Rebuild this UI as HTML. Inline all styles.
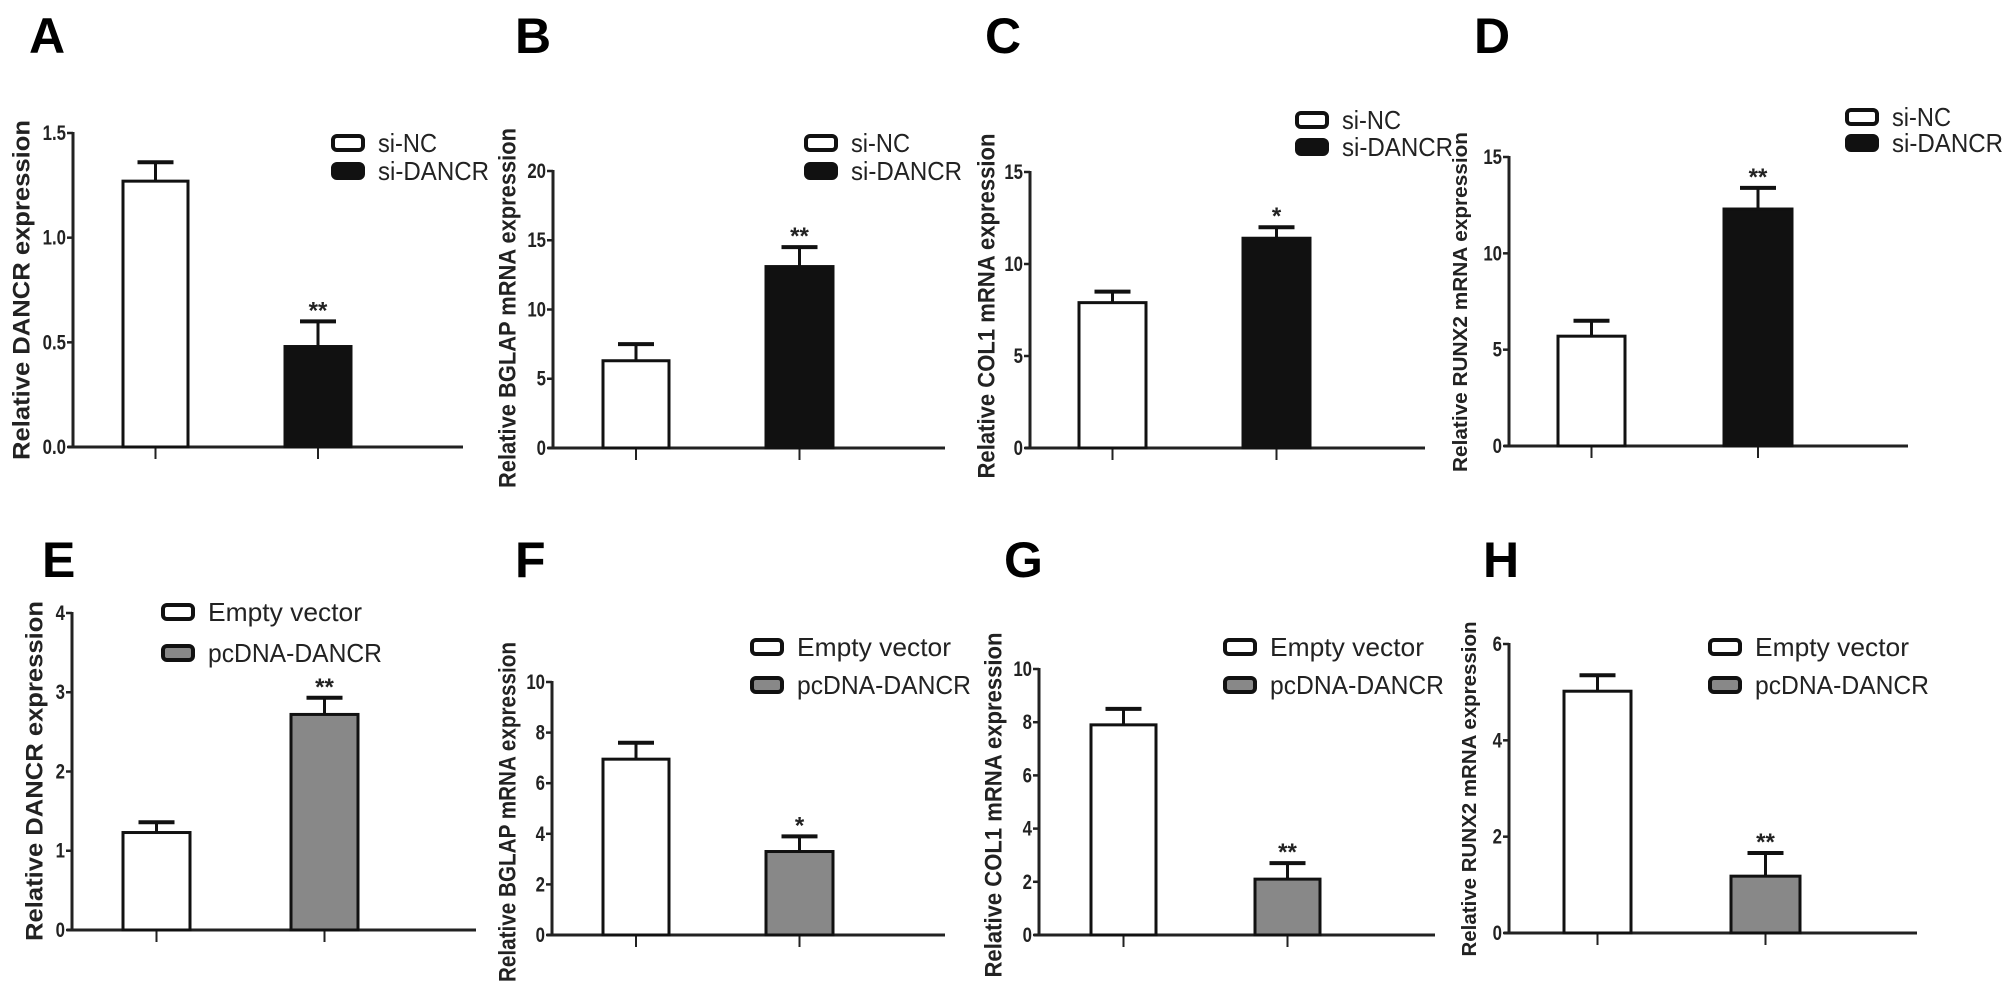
<!DOCTYPE html>
<html><head><meta charset="utf-8"><style>
html,body{margin:0;padding:0;background:#fff;}
svg{display:block;font-family:"Liberation Sans",Arial,sans-serif;}
</style></head><body>
<svg id="fig" width="2008" height="989" viewBox="0 0 2008 989" xmlns="http://www.w3.org/2000/svg"></svg>
<script>
// ----- data -----
const panelLetters = ["A","B","C","D","E","F","G","H"];
const yTitles = ["Relative DANCR expression","Relative BGLAP mRNA expression","Relative COL1 mRNA expression","Relative RUNX2 mRNA expression","Relative DANCR expression","Relative BGLAP mRNA expression","Relative COL1 mRNA expression","Relative RUNX2 mRNA expression"];
const groupNamesTop = ["si-NC","si-DANCR"];
const groupNamesBottom = ["Empty vector","pcDNA-DANCR"];
const meansA = [1.27, 0.48], errA = [1.36, 0.60];
const meansB = [6.3, 13.1], errB = [7.5, 14.5];
const meansC = [7.9, 11.4], errC = [8.5, 12.0];
const meansD = [5.7, 12.3], errD = [6.5, 13.4];
const meansE = [1.23, 2.72], errE = [1.36, 2.93];
const meansF = [6.95, 3.3], errF = [7.6, 3.9];
const meansG = [7.9, 2.1], errG = [8.5, 2.7];
const meansH = [5.02, 1.18], errH = [5.35, 1.66];
const sigMarks = [["","**"],["","**"],["","*"],["","**"],["","**"],["","*"],["","**"],["","**"]];
const ticksA = ["0.0","0.5","1.0","1.5"], ticksB = ["0","5","10","15","20"], ticksC = ["0","5","10","15"], ticksD = ["0","5","10","15"];
const ticksE = ["0","1","2","3","4"], ticksF = ["0","2","4","6","8","10"], ticksG = ["0","2","4","6","8","10"], ticksH = ["0","2","4","6"];

// ----- layout (pixels) -----
const layout = [
 {ax:73, y0:447, yTop:133, xEnd:463, bars:[[123,188],[285,351]], leg:[331,143,171], tl:[59,111], let:[29,53], yl:[22,290,340,24]},
 {ax:553,y0:448, yTop:171, xEnd:945, bars:[[603,669],[766,833]], leg:[804,143,171], tl:[59,111], let:[515,53], yl:[508,308,360,24]},
 {ax:1030,y0:448,yTop:172, xEnd:1425,bars:[[1079,1146],[1243,1310]],leg:[1295,120,147], tl:[59,111], let:[985,53], yl:[987,306,345,24]},
 {ax:1509,y0:446,yTop:157, xEnd:1908,bars:[[1558,1625],[1724,1792]],leg:[1845,117,143], tl:[59,111], let:[1474,53], yl:[1461,302,340,20]},
 {ax:72, y0:930, yTop:613, xEnd:476, bars:[[123,190],[291,358]], leg:[161,612,653], tl:[154,174], let:[42,577], yl:[35,771,340,24]},
 {ax:552,y0:935, yTop:682, xEnd:945, bars:[[603,669],[766,833]], leg:[750,647,685], tl:[154,174], let:[515,577], yl:[508,812,340,24]},
 {ax:1039,y0:935,yTop:669, xEnd:1435,bars:[[1091,1156],[1255,1320]],leg:[1223,647,685], tl:[154,174], let:[1004,577], yl:[994,805,345,24]},
 {ax:1509,y0:933,yTop:644, xEnd:1917,bars:[[1564,1631],[1731,1800]],leg:[1708,647,685], tl:[154,174], let:[1483,577], yl:[1470,789,335,20]}
];
const allMeans=[meansA,meansB,meansC,meansD,meansE,meansF,meansG,meansH];
const allErr=[errA,errB,errC,errD,errE,errF,errG,errH];
const allTicks=[ticksA,ticksB,ticksC,ticksD,ticksE,ticksF,ticksG,ticksH];
const fills=[["#fff","#111"],["#fff","#111"],["#fff","#111"],["#fff","#111"],["#fff","#888"],["#fff","#888"],["#fff","#888"],["#fff","#888"]];

const NS="http://www.w3.org/2000/svg";
const svg=document.getElementById('fig');
function mk(tag,attrs,parent){const e=document.createElementNS(NS,tag);for(const k in attrs)e.setAttribute(k,attrs[k]);(parent||svg).appendChild(e);return e;}

panelLetters.forEach((L,i)=>{
  const P=layout[i], ticks=allTicks[i];
  const vmax=parseFloat(ticks[ticks.length-1]);
  const y=v=>P.y0-(v/vmax)*(P.y0-P.yTop);
  const g=mk('g',{});
  
  
  const lt=mk('text',{x:P.let[0],y:P.let[1],'font-size':50,'font-weight':'bold',fill:'#000'},g);
  lt.textContent=L;
  
  
  const yt=mk('text',{x:P.yl[0],y:P.yl[1],'font-size':P.yl[3],'font-weight':'bold','text-anchor':'middle','dominant-baseline':'central',transform:`rotate(-90 ${P.yl[0]} ${P.yl[1]})`,textLength:P.yl[2],lengthAdjust:'spacingAndGlyphs',fill:'#222'},g);
  yt.textContent=yTitles[i];
  
  
  const ya=mk('line',{x1:P.ax,y1:P.yTop-1,x2:P.ax,y2:P.y0+1.5,stroke:'#222','stroke-width':3},g);
  
  
  const xa=mk('line',{x1:P.ax-5,y1:P.y0,x2:P.xEnd,y2:P.y0,stroke:'#222','stroke-width':3},g);
  
  
  ticks.forEach(t=>{
    const v=parseFloat(t), yy=y(v);
    mk('line',{x1:P.ax-6,y1:yy,x2:P.ax,y2:yy,stroke:'#222','stroke-width':2.5},g);
    const tx=mk('text',{x:P.ax-7,y:yy+7,'font-size':21,'font-weight':'bold','text-anchor':'end',fill:'#222',transform:`translate(${P.ax-7} 0) scale(0.8 1) translate(${-(P.ax-7)} 0)`},g);
    tx.textContent=t;
    
    
  });
  const means=allMeans[i], errs=allErr[i];
  means.forEach((m,j)=>{
    const [x1,x2]=P.bars[j], cx=(x1+x2)/2, top=y(m), et=y(errs[j]);
    mk('line',{x1:cx,y1:P.y0,x2:cx,y2:P.y0+12,stroke:'#222','stroke-width':2},g);
    const el=mk('line',{x1:cx,y1:top,x2:cx,y2:et,stroke:'#111','stroke-width':3},g);
    
    
    const cap=mk('line',{x1:cx-18,y1:et,x2:cx+18,y2:et,stroke:'#111','stroke-width':4},g);
    
    
    const r=mk('rect',{x:x1,y:top,width:x2-x1,height:P.y0-top,fill:fills[i][j],stroke:'#111','stroke-width':3},g);
    
    
    if(sigMarks[i][j]){
      const s=mk('text',{x:cx,y:et-3,'font-size':24,'font-weight':'bold','text-anchor':'middle',fill:'#222'},g);
      s.textContent=sigMarks[i][j];
      
      
    }
  });
  const names=i<4?groupNamesTop:groupNamesBottom;
  names.forEach((n,j)=>{
    const cy=P.leg[1+j];
    const lg=mk('g',{},g);
    
    
    mk('rect',{x:P.leg[0]+2,y:cy-7,width:30,height:14,rx:4,fill:fills[i][j],stroke:'#111','stroke-width':4},lg);
    const t=mk('text',{x:P.leg[0]+47,y:cy+9,'font-size':26,fill:'#222',textLength:P.tl[j],lengthAdjust:'spacingAndGlyphs'},lg);
    t.textContent=n;
  });
});
</script>
</body></html>
